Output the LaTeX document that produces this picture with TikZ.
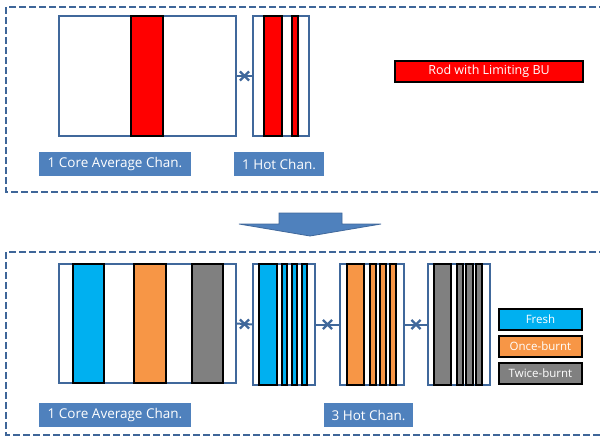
\documentclass[tikz,border=0pt]{standalone}
\usepackage{fontspec}
\setmainfont{Open Sans}
\usetikzlibrary{shapes.misc}

\definecolor{frameblue}{RGB}{62,102,153}
\definecolor{chanblue}{RGB}{64,104,155}
\definecolor{tagblue}{RGB}{79,129,189}
\definecolor{freshc}{RGB}{0,176,240}
\definecolor{oncec}{RGB}{247,150,70}
\definecolor{twicec}{RGB}{128,128,128}

\tikzset{
  panel/.style={draw=frameblue, line width=2.4pt, dash pattern=on 7pt off 3pt},
  chanbox/.style={draw=chanblue, line width=2.6pt, fill=white},
  rod/.style={draw=black, line width=1.8pt},
  tag/.style={fill=tagblue, text=white, font=\fontsize{13.5}{15}\selectfont},
  legendbox/.style={draw=black, line width=1.8pt, text=white, font=\fontsize{11.5}{13}\selectfont},
  couple/.style={draw=chanblue, line width=2pt},
  crossmark/.style={cross out, draw=chanblue, line width=2.2pt, minimum size=7pt, inner sep=0pt},
}

% rectangle node from its corners: name, x1, y1, x2, y2, style, text
\newcommand\boxat[7]{%
  \node[#6, anchor=north west, inner sep=0pt, outer sep=0pt,
        minimum width={(#4-#2)*1pt}, minimum height={(#5-#3)*1pt}]
        (#1) at (#2,#3) {#7};}

\begin{document}
\begin{tikzpicture}[x=1pt,y=-1pt]
\useasboundingbox (0,0) rectangle (600,437);

% ---------- upper panel: single hot channel ----------
\draw[panel] (606,7) -- (6,7) -- (6,192) -- (606,192);

\boxat{avgA}{59}{16}{236}{136}{chanbox}{}
\boxat{avgAr}{131}{16}{163}{136}{rod, fill=red}{}

\boxat{hotA}{253}{16}{309}{136}{chanbox}{}
\boxat{hotAr1}{264}{16}{282}{136}{rod, fill=red}{}
\boxat{hotAr2}{292}{16}{298}{136}{rod, fill=red}{}

\draw[couple] (avgA.east) -- (hotA.west) node[midway, crossmark] (xA) {};

\boxat{tagA1}{39}{152}{191}{176}{tag}{1 Core Average Chan.}
\boxat{tagA2}{234}{152}{324}{176}{tag}{1 Hot Chan.}

\boxat{legRod}{395}{61}{583}{82}{legendbox, fill=red, font=\fontsize{12.5}{14}\selectfont}{Rod with Limiting BU}

% ---------- transition arrow ----------
\draw[draw=chanblue, fill=tagblue, line width=0.8pt]
  (279,213) -- (342,213) -- (342,224) -- (381,224) -- (310,236)
  -- (239,224) -- (279,224) -- cycle;

% ---------- lower panel: three hot channels ----------
\draw[panel] (606,252) -- (6,252) -- (6,435) -- (606,435);

\boxat{avgB}{59}{264}{236}{383}{chanbox}{}
\boxat{avgBf}{73}{264}{104}{383}{rod, fill=freshc}{}
\boxat{avgBo}{134}{264}{166}{383}{rod, fill=oncec}{}
\boxat{avgBt}{192}{264}{223}{383}{rod, fill=twicec}{}

\boxat{hotF}{253}{264}{315}{385}{chanbox}{}
\boxat{hotF1}{259}{264}{277}{385}{rod, fill=freshc}{}
\boxat{hotF2}{282}{264}{287}{385}{rod, fill=freshc}{}
\boxat{hotF3}{292}{264}{297}{385}{rod, fill=freshc}{}
\boxat{hotF4}{302}{264}{307}{385}{rod, fill=freshc}{}

\boxat{hotO}{340}{264}{404}{385}{chanbox}{}
\boxat{hotO1}{347}{264}{364}{385}{rod, fill=oncec}{}
\boxat{hotO2}{370}{264}{376}{385}{rod, fill=oncec}{}
\boxat{hotO3}{380}{264}{386}{385}{rod, fill=oncec}{}
\boxat{hotO4}{390}{264}{396}{385}{rod, fill=oncec}{}

\boxat{hotT}{428}{264}{490}{385}{chanbox}{}
\boxat{hotT1}{434}{264}{451}{385}{rod, fill=twicec}{}
\boxat{hotT2}{457}{264}{463}{385}{rod, fill=twicec}{}
\boxat{hotT3}{466}{264}{473}{385}{rod, fill=twicec}{}
\boxat{hotT4}{476}{264}{482}{385}{rod, fill=twicec}{}

\draw[couple] (avgB.east) -- (hotF.west) node[midway, crossmark] (xB1) {};
\draw[couple] (hotF.east) -- (hotO.west) node[midway, crossmark] (xB2) {};
\draw[couple] (hotO.east) -- (hotT.west) node[midway, crossmark] (xB3) {};

\boxat{legF}{499}{309}{582}{330}{legendbox, fill=freshc}{Fresh}
\boxat{legO}{499}{336}{582}{357}{legendbox, fill=oncec}{Once-burnt}
\boxat{legT}{499}{363}{582}{384}{legendbox, fill=twicec}{Twice-burnt}

\boxat{tagB1}{39}{403}{191}{427}{tag}{1 Core Average Chan.}
\boxat{tagB2}{324}{403}{413}{427}{tag}{3 Hot Chan.}
\end{tikzpicture}
\end{document}
